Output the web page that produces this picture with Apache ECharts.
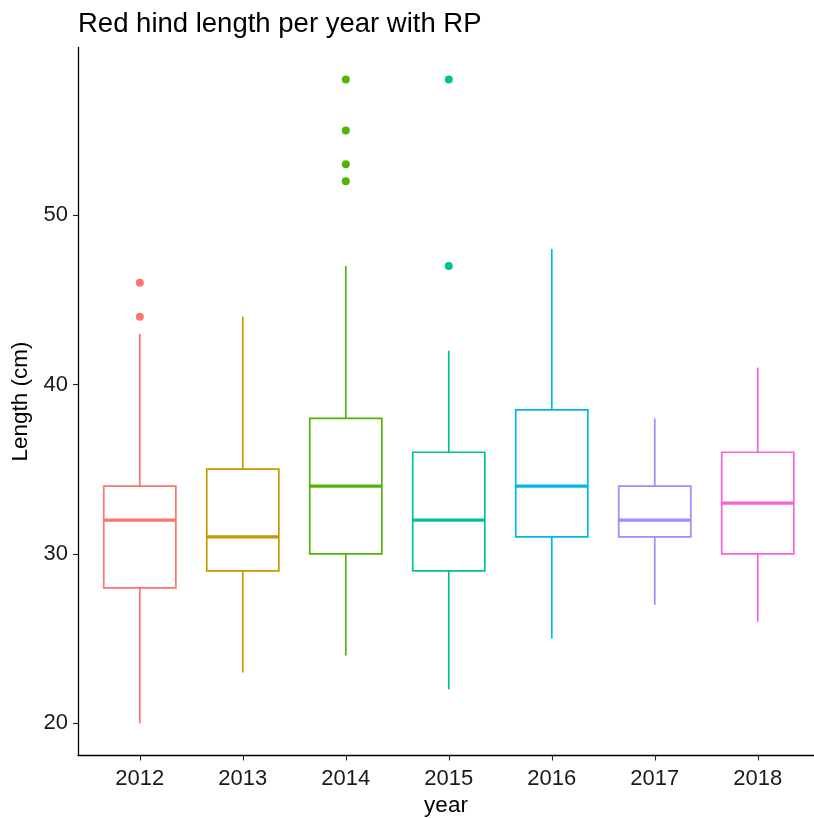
<!DOCTYPE html>
<html>
<head>
<meta charset="utf-8">
<script src="https://cdn.jsdelivr.net/npm/echarts@6/dist/echarts.min.js"></script>
<style>
html,body{margin:0;padding:0;background:#fff;}
#chart{width:814px;height:818px;}
</style>
</head>
<body>
<div id="chart"></div>
<script>
// ---- data ----
var years = ['2012', '2013', '2014', '2015', '2016', '2017', '2018'];
var whiskerLow  = [20, 23, 24, 22, 25, 27, 26];
var q1          = [28, 29, 30, 29, 31, 31, 30];
var median      = [32, 31, 34, 32, 34, 32, 33];
var q3          = [34, 35, 38, 36, 38.5, 34, 36];
var whiskerHigh = [43, 44, 47, 42, 48, 38, 41];
var outlierYear  = ['2012', '2012', '2014', '2014', '2014', '2014', '2015', '2015'];
var outlierValue = [44, 46, 52, 53, 55, 58, 47, 58];
var yTicks = [20, 30, 40, 50];
var colors = ['#F8766D', '#C49A00', '#53B400', '#00C094', '#00B6EB', '#A58AFF', '#FB61D7'];

var xPositions = years.map(function (y, i) { return i + 1; });
var boxData = years.map(function (y, i) {
  return [xPositions[i], whiskerLow[i], q1[i], median[i], q3[i], whiskerHigh[i]];
});
var outlierData = outlierYear.map(function (y, i) {
  return [years.indexOf(y) + 1, outlierValue[i]];
});

var FONT = "'Liberation Sans', Arial, Helvetica, sans-serif";
var chart = echarts.init(document.getElementById('chart'), null, {renderer: 'canvas'});

chart.setOption({
  animation: false,
  backgroundColor: '#ffffff',
  title: {
    text: 'Red hind length per year with RP',
    left: 78,
    top: 10,
    padding: 0,
    textStyle: {fontFamily: FONT, fontSize: 27.5, fontWeight: 'normal', color: '#000'}
  },
  grid: {left: 78, right: 0, top: 47.4, bottom: 62.5, containLabel: false, outerBoundsMode: 'none'},
  xAxis: {
    type: 'value',
    min: 0.4,
    max: 7.546,
    name: 'year',
    nameLocation: 'middle',
    nameGap: 38,
    nameTextStyle: {fontFamily: FONT, fontSize: 22.5, color: '#000'},
    splitLine: {show: false},
    axisLine: {show: true, lineStyle: {color: '#000', width: 1.3}},
    axisTick: {show: true, length: 5, customValues: xPositions, lineStyle: {color: '#222', width: 1.1}},
    axisLabel: {
      customValues: xPositions,
      margin: 12,
      fontFamily: FONT, fontSize: 22, color: '#1a1a1a',
      formatter: function (v) { return years[Math.round(v) - 1] || ''; }
    }
  },
  yAxis: {
    type: 'value',
    min: 18.1,
    max: 59.9,
    name: 'Length (cm)',
    nameLocation: 'middle',
    nameGap: 41,
    nameTextStyle: {fontFamily: FONT, fontSize: 22.5, color: '#000'},
    splitLine: {show: false},
    axisLine: {show: true, lineStyle: {color: '#000', width: 1.3}},
    axisTick: {show: true, length: 5, customValues: yTicks, lineStyle: {color: '#222', width: 1.1}},
    axisLabel: {customValues: yTicks, margin: 10, padding: [4, 0, 0, 0], fontFamily: FONT, fontSize: 22, color: '#1a1a1a'}
  },
  series: [
    {
      type: 'custom',
      data: boxData,
      encode: {x: 0, y: [1, 2, 3, 4, 5]},
      renderItem: function (params, api) {
        var idx = params.dataIndex;
        var c = colors[idx];
        var xv = api.value(0);
        var pLo = api.coord([xv, api.value(1)]);
        var pQ1 = api.coord([xv, api.value(2)]);
        var pMed = api.coord([xv, api.value(3)]);
        var pQ3 = api.coord([xv, api.value(4)]);
        var pHi = api.coord([xv, api.value(5)]);
        var bw = api.size([1, 0])[0] * 0.7;
        var x = pLo[0];
        return {
          type: 'group',
          children: [
            {type: 'line', shape: {x1: x, y1: pHi[1], x2: x, y2: pQ3[1]}, style: {stroke: c, lineWidth: 1.7}},
            {type: 'line', shape: {x1: x, y1: pQ1[1], x2: x, y2: pLo[1]}, style: {stroke: c, lineWidth: 1.7}},
            {type: 'rect', shape: {x: x - bw / 2, y: pQ3[1], width: bw, height: pQ1[1] - pQ3[1]},
             style: {fill: '#fff', stroke: c, lineWidth: 1.7}},
            {type: 'line', shape: {x1: x - bw / 2, y1: pMed[1], x2: x + bw / 2, y2: pMed[1]},
             style: {stroke: c, lineWidth: 3.3}}
          ]
        };
      }
    },
    {
      type: 'scatter',
      data: outlierData,
      symbol: 'circle',
      symbolSize: 8,
      itemStyle: {
        opacity: 1,
        color: function (p) { return colors[p.value[0] - 1]; }
      }
    }
  ]
});
</script>
</body>
</html>
